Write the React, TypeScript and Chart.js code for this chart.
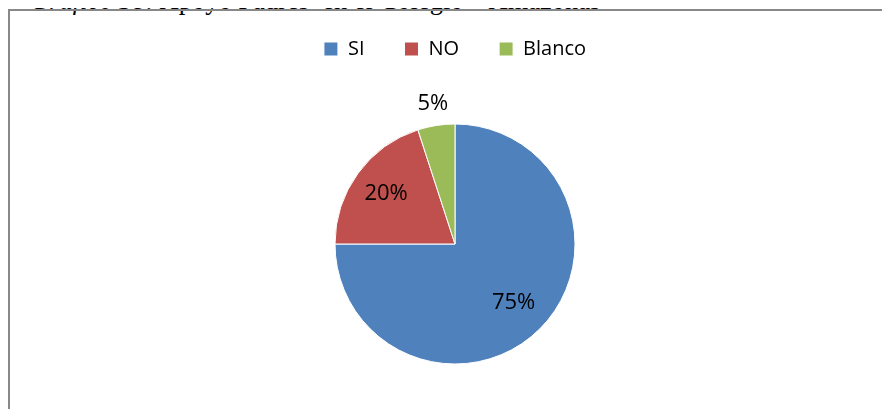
import React, { useEffect, useRef } from "react";
import { Chart, registerables } from "chart.js";

Chart.register(...registerables);

const categories = ["SI", "NO", "Blanco"];
const values = [75, 20, 5];
const valueLabels = ["75%", "20%", "5%"];
const colors = ["#4F81BD", "#C0504D", "#9BBB59"];
// radial position of each value label, as a fraction of the pie radius
const labelRadius = [0.69, 0.71, 1.18];

const labelPlugin = {
  id: "sliceLabels",
  afterDatasetsDraw(chart: any) {
    const ctx = chart.ctx;
    const meta = chart.getDatasetMeta(0);
    ctx.save();
    ctx.font = "22px 'Open Sans'";
    ctx.fillStyle = "#000";
    ctx.textAlign = "center";
    ctx.textBaseline = "middle";
    meta.data.forEach((arc: any, i: number) => {
      const { x, y, startAngle, endAngle, outerRadius } = arc.getProps(
        ["x", "y", "startAngle", "endAngle", "outerRadius"],
        true
      );
      const mid = (startAngle + endAngle) / 2;
      const r = outerRadius * labelRadius[i];
      ctx.fillText(valueLabels[i], x + Math.cos(mid) * r, y + Math.sin(mid) * r);
    });
    ctx.restore();
  },
};

export default function App() {
  const ref = useRef<HTMLCanvasElement | null>(null);
  useEffect(() => {
    if (!ref.current) return;
    const chart = new Chart(ref.current, {
      type: "pie",
      data: {
        labels: categories,
        datasets: [
          {
            data: values,
            backgroundColor: colors,
            borderColor: "#ffffff",
            borderWidth: 1,
            radius: 120,
          },
        ],
      },
      options: {
        animation: false,
        responsive: false,
        maintainAspectRatio: false,
        layout: { padding: { top: 0, bottom: 30, left: 0, right: 0 } },
        plugins: {
          legend: {
            position: "top",
            labels: {
              boxWidth: 14,
              boxHeight: 14,
              padding: 40,
              color: "#000",
              font: { family: "'Open Sans'", size: 20 },
            },
          },
          tooltip: { enabled: false },
        },
      },
      plugins: [labelPlugin],
    });
    return () => chart.destroy();
  }, []);

  return (
    <div style={{ position: "relative", width: 882, height: 401, overflow: "hidden" }}>
      <div
        style={{
          position: "absolute",
          left: 22,
          top: -21,
          fontFamily: "'Liberation Serif', serif",
          fontSize: 26.5,
          lineHeight: "26px",
          whiteSpace: "nowrap",
          color: "#000",
        }}
      >
        <i>Gráfico 38:</i> Apoyo Padres&nbsp; en el Colegio – Amazonas
      </div>
      <div
        style={{
          position: "absolute",
          left: 0,
          top: 1,
          width: 900,
          height: 440,
          border: "2px solid #888888",
          overflow: "hidden",
        }}
      >
        <canvas
          ref={ref}
          width={890}
          height={450}
          style={{ position: "absolute", left: 0, top: -12, width: 890, height: 450 }}
        />
      </div>
    </div>
  );
}
